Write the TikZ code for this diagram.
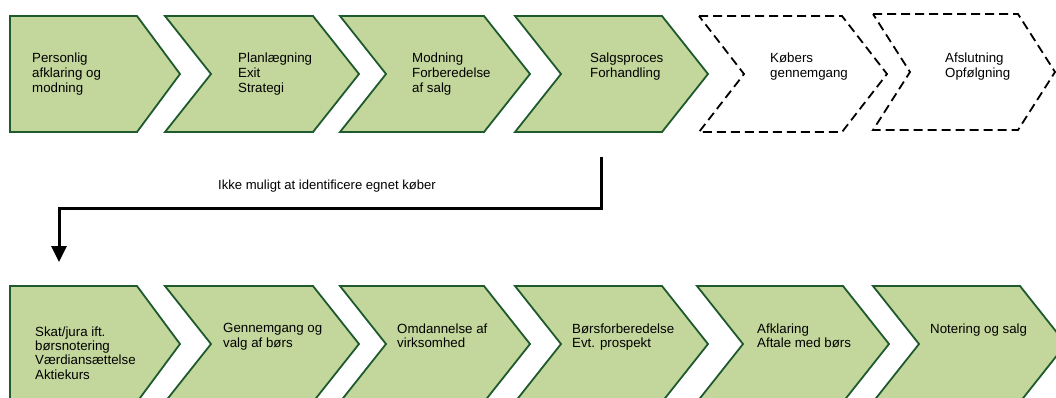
\documentclass[tikz,border=0pt]{standalone}
\usepackage{fontspec}
\setmainfont{Liberation Sans}
\usetikzlibrary{arrows.meta}
\definecolor{chevfill}{RGB}{195,214,155}
\definecolor{chevline}{RGB}{30,90,45}
\tikzset{
  solidchev/.style={fill=chevfill,draw=chevline,line width=1.8pt,line join=miter},
  dashchev/.style={draw=black,line width=1.8pt,dash pattern=on 9pt off 5pt},
  lbl/.style={anchor=north west,align=left,inner sep=0pt,font=\fontsize{13.3}{15}\selectfont},
  lblb/.style={lbl,font=\fontsize{13.3}{14.3}\selectfont},
  flow/.style={line width=3pt,-{Triangle[width=15pt,length=16pt]}},
  flowlbl/.style={inner sep=0pt,font=\fontsize{13.1}{15}\selectfont},
}
% style, x0, x1, ytop, ybottom, depth
\newcommand{\chevshape}[6]{%
  \path[#1] (#2,#4) -- (#3,#4) -- ({#3+#6},{(#4+#5)/2}) -- (#3,#5) -- (#2,#5) -- ({#2+#6},{(#4+#5)/2}) -- cycle;}
\newcommand{\firstshape}[6]{%
  \path[#1] (#2,#4) -- (#3,#4) -- ({#3+#6},{(#4+#5)/2}) -- (#3,#5) -- (#2,#5) -- cycle;}
\begin{document}
\begin{tikzpicture}[x=1pt,y=-1pt]
\useasboundingbox (0,0) rectangle (1056,397);
\clip (0,0) rectangle (1056,397);
% top row
\firstshape{solidchev}{10}{137}{16}{132}{43}
\chevshape{solidchev}{165}{313}{16}{132}{46}
\chevshape{solidchev}{340}{484}{16}{132}{46}
\chevshape{solidchev}{515}{662}{16}{132}{46}
\chevshape{dashchev}{699}{842}{16}{132}{45}
\chevshape{dashchev}{873}{1018}{14}{130}{37}
\node[lbl] (t1) at (32,52.4) {Personlig\\afklaring og\\modning};
\node[lbl] (t2) at (238,52.4) {Planlægning\\Exit\\Strategi};
\node[lbl] (t3) at (412,52.4) {Modning\\Forberedelse\\af salg};
\node[lbl] (t4) at (590,52.4) {Salgsproces\\Forhandling};
\node[lbl] (t5) at (770,52.4) {Købers\\gennemgang};
\node[lbl] (t6) at (945,52.4) {Afslutning\\Opfølgning};
% bottom row
\firstshape{solidchev}{10}{137}{286}{402}{43}
\chevshape{solidchev}{165}{313}{286}{402}{46}
\chevshape{solidchev}{340}{484}{286}{402}{46}
\chevshape{solidchev}{515}{662}{286}{402}{46}
\chevshape{solidchev}{697}{843}{286}{402}{46}
\chevshape{solidchev}{873}{1020}{286}{402}{46}
\node[lblb] (b1) at (35,326.4) {Skat/jura ift.\\børsnotering\\Værdiansættelse\\Aktiekurs};
\node[lblb] (b2) at (223,323.4) {Gennemgang og\\valg af børs};
\node[lblb] (b3) at (397,323.4) {Omdannelse af\\virksomhed};
\node[lblb] (b4) at (572,323.4) {Børsforberedelse\\Evt. prospekt};
\node[lblb] (b5) at (757,323.4) {Afklaring\\Aftale med børs};
\node[lblb] (b6) at (930,323.4) {Notering og salg};
% connector
\coordinate (arrS) at (601,157);
\coordinate (bend) at (59,208);
\coordinate (arrE) at (59,262);
\draw[flow] (arrS) |- (bend) -- (arrE);
\node[flowlbl] (al) at (327,186) {Ikke muligt at identificere egnet køber};
\end{tikzpicture}
\end{document}
